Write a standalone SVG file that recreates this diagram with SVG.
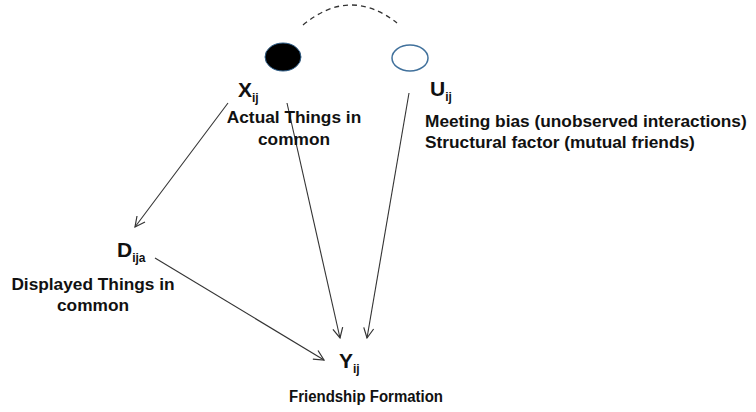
<svg xmlns="http://www.w3.org/2000/svg" width="756" height="412" viewBox="0 0 756 412">
<defs>
<style>
.t{font-family:"Liberation Sans",Arial,sans-serif;font-weight:bold;fill:#111;}
.lbl{font-size:17.3px;}
.var{font-size:21px;}
.sub{font-size:12px;}
.edge{stroke:#333;stroke-width:1.1;fill:none;marker-end:url(#ah);}
</style>
<marker id="ah" viewBox="0 0 12 12" refX="11" refY="6" markerWidth="12" markerHeight="12" markerUnits="userSpaceOnUse" orient="auto">
<path d="M1,1 L11,6 L1,11" fill="none" stroke="#333" stroke-width="1.2"/>
</marker>
</defs>
<rect width="756" height="412" fill="#fff"/>
<g id="connectors">
<path d="M303,25 Q350,-14 397,23" fill="none" stroke="#333" stroke-width="1.3" stroke-dasharray="5,4"/>
<line class="edge" x1="228" y1="103" x2="135" y2="227"/>
<line class="edge" x1="287" y1="103" x2="340" y2="338"/>
<line class="edge" x1="409" y1="93" x2="367" y2="338"/>
<line class="edge" x1="155" y1="258" x2="324" y2="360"/>
</g>
<g id="node-x">
<ellipse cx="283" cy="57" rx="18" ry="14" fill="#000" stroke="#2f5f8a" stroke-width="1"/>
<text class="t var" x="238" y="97">X<tspan class="sub" dy="5">ij</tspan></text>
<text class="t lbl" text-anchor="middle" x="294" y="123">Actual Things in</text>
<text class="t lbl" text-anchor="middle" x="294" y="145">common</text>
</g>
<g id="node-u">
<ellipse cx="410" cy="58" rx="18" ry="13" fill="#fff" stroke="#41719c" stroke-width="1.5"/>
<text class="t var" x="430" y="96">U<tspan class="sub" dy="5">ij</tspan></text>
<text class="t lbl" x="425" y="127">Meeting bias (unobserved interactions)</text>
<text class="t lbl" x="425" y="148">Structural factor (mutual friends)</text>
</g>
<g id="node-d">
<text class="t var" x="117" y="257">D<tspan class="sub" dy="5">ija</tspan></text>
<text class="t lbl" text-anchor="middle" x="93" y="290">Displayed Things in</text>
<text class="t lbl" text-anchor="middle" x="93" y="311">common</text>
</g>
<g id="node-y">
<text class="t var" x="339" y="368">Y<tspan class="sub" dy="5">ij</tspan></text>
<text class="t" font-size="16.3" text-anchor="middle" x="366" y="402" textLength="154" lengthAdjust="spacingAndGlyphs">Friendship Formation</text>
</g>
</svg>
